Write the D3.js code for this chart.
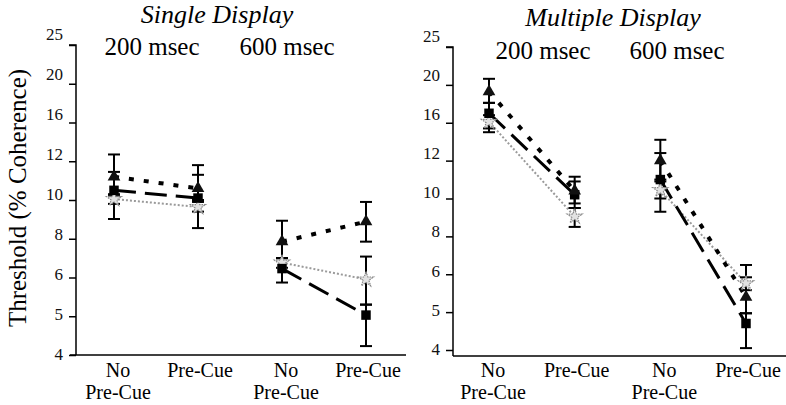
<!DOCTYPE html>
<html>
<head>
<meta charset="utf-8">
<script src="https://cdn.jsdelivr.net/npm/d3@7"></script>
<style>
  html, body { margin: 0; padding: 0; background: #fff; }
  text, tspan { font-family: 'Liberation Serif', 'Times New Roman', Tinos, Times !important; }
</style>
</head>
<body>
<div id="wrap"></div>
<script>
// ---------- data ----------
const panelTitles = ["Single Display", "Multiple Display"];
const durations = ["200 msec", "600 msec"];
const categories = ["No Pre-Cue", "Pre-Cue", "No Pre-Cue", "Pre-Cue"];
const yTicks = [4, 5, 6, 8, 10, 12, 16, 20, 25];
const yTitle = "Threshold (% Coherence)";

// Single display
const singleTriangle    = [11.2, 10.6, 7.85, 8.88];
const singleTriangleLo  = [10.2, 10.0, 7.0, 7.85];
const singleTriangleHi  = [12.7, 11.8, 8.93, 9.9];
const singleSquare      = [10.5, 10.1, 6.46, 5.03];
const singleSquareLo    = [9.02, 8.55, 5.87, 4.23];
const singleSquareHi    = [11.45, 11.3, 7.0, 5.3];
const singleGray        = [10.05, 9.64, 6.77, 5.95];
const singleGrayLo      = [9.8, 9.4, 6.5, 5.3];
const singleGrayHi      = [10.3, 9.9, 7.0, 7.08];

// Multiple display
const multiTriangle     = [19.3, 10.4, 12.0, 5.4];
const multiTriangleLo   = [18.1, 9.74, 11.0, 4.97];
const multiTriangleHi   = [20.8, 11.15, 14.2, 5.92];
const multiSquare       = [17.0, 10.2, 11.0, 4.7];
const multiSquareLo     = [15.0, 9.5, 9.3, 4.05];
const multiSquareHi     = [18.1, 10.9, 12.8, 4.97];
const multiGray         = [16.1, 9.05, 10.45, 5.76];
const multiGrayLo       = [15.4, 8.5, 10.0, 5.58];
const multiGrayHi       = [16.8, 9.5, 10.9, 6.49];

// ---------- layout ----------
const FONT = "'Liberation Serif', 'Times New Roman', Tinos, Times";
const svg = d3.select("#wrap").append("svg")
  .attr("width", 786).attr("height", 405)
  .style("display", "block")
  .attr("font-family", "Liberation Serif");

const panelLayout = [
  { axisX: 76, top: 45, bottom: 355, base: 355, xStart: 114, xEnd: 366, lineL: 70, lineR: 406, titleX: 217, titleY: 23, durX: [152, 287], durY: 55 },
  { axisX: 453, top: 47, bottom: 350, base: 356, xStart: 489, xEnd: 746, lineL: 453, lineR: 786, titleX: 613, titleY: 26, durX: [543, 677], durY: 59 }
];

const panelData = [
  [
    { v: singleTriangle, lo: singleTriangleLo, hi: singleTriangleHi, kind: "tri" },
    { v: singleSquare, lo: singleSquareLo, hi: singleSquareHi, kind: "sq" },
    { v: singleGray, lo: singleGrayLo, hi: singleGrayHi, kind: "gray" }
  ],
  [
    { v: multiTriangle, lo: multiTriangleLo, hi: multiTriangleHi, kind: "tri" },
    { v: multiSquare, lo: multiSquareLo, hi: multiSquareHi, kind: "sq" },
    { v: multiGray, lo: multiGrayLo, hi: multiGrayHi, kind: "gray" }
  ]
];

const lineStyle = {
  tri:  { stroke: "#000", width: 4, dash: "5,10" },
  sq:   { stroke: "#000", width: 3, dash: "22,9" },
  gray: { stroke: "#9a9a9a", width: 2, dash: "2,2" }
};
const drawOrder = ["gray", "sq", "tri"];

function txt(sel) {
  return sel.attr("font-family", "Liberation Serif").style("font-family", FONT);
}

panelLayout.forEach((L, p) => {
  const g = svg.append("g");
  const n = yTicks.length;
  const y = d3.scaleLinear()
    .domain(yTicks)
    .range(yTicks.map((_, i) => L.bottom - i * (L.bottom - L.top) / (n - 1)));
  const x = d3.scaleLinear().domain([0, categories.length - 1]).range([L.xStart, L.xEnd]);

  // y axis
  const yAxis = d3.axisLeft(y).tickValues(yTicks).tickSize(7).tickPadding(6).tickFormat(d3.format("d"));
  const ya = g.append("g").attr("transform", `translate(${L.axisX},0)`).call(yAxis);
  ya.attr("font-family", "Liberation Serif").attr("font-size", 17);
  ya.select(".domain").attr("d", `M-7,${L.top}H0V${L.base}`).attr("stroke", "#000").attr("stroke-width", 1.5);
  ya.selectAll(".tick line").attr("stroke", "#000").attr("stroke-width", 1.5);
  txt(ya.selectAll(".tick text"))
    .attr("font-size", 17)
    .attr("fill", "#111")
    .attr("transform", (d) => `translate(0,${-1.3 * yTicks.indexOf(d) - 1})`);

  // x baseline
  g.append("line")
    .attr("x1", L.lineL).attr("x2", L.lineR)
    .attr("y1", L.base).attr("y2", L.base)
    .attr("stroke", "#000").attr("stroke-width", 1.5);

  // titles
  txt(g.append("text"))
    .attr("x", L.titleX).attr("y", L.titleY)
    .attr("text-anchor", "middle")
    .attr("font-style", "italic")
    .attr("font-size", 26)
    .text(panelTitles[p]);
  durations.forEach((d, i) => {
    txt(g.append("text"))
      .attr("x", L.durX[i]).attr("y", L.durY)
      .attr("text-anchor", "middle")
      .attr("font-size", 25)
      .text(d);
  });

  // x category labels
  categories.forEach((c, i) => {
    if (c === "No Pre-Cue") {
      txt(g.append("text")).attr("text-anchor", "middle").attr("font-size", 20)
        .attr("x", x(i) + 4).attr("y", 377).text("No");
      txt(g.append("text")).attr("text-anchor", "middle").attr("font-size", 20)
        .attr("x", x(i) + 4).attr("y", 399).text("Pre-Cue");
    } else {
      txt(g.append("text")).attr("text-anchor", "middle").attr("font-size", 20)
        .attr("x", x(i) + 2).attr("y", 377).text(c);
    }
  });

  const series = panelData[p];

  // lines (per duration segment)
  drawOrder.forEach((k) => {
    const s = series.find((e) => e.kind === k);
    const st = lineStyle[k];
    [[0, 1], [2, 3]].forEach(([a, b]) => {
      g.append("path")
        .attr("d", d3.line().x((d) => x(d)).y((d) => y(s.v[d]))([a, b]))
        .attr("fill", "none")
        .attr("stroke", st.stroke)
        .attr("stroke-width", st.width)
        .attr("stroke-dasharray", st.dash);
    });
  });

  // error bars
  series.forEach((s) => {
    s.v.forEach((v, i) => {
      const cx = x(i);
      g.append("line").attr("x1", cx).attr("x2", cx).attr("y1", y(s.lo[i])).attr("y2", y(s.hi[i]))
        .attr("stroke", "#000").attr("stroke-width", 2);
      [s.lo[i], s.hi[i]].forEach((e) => {
        g.append("line").attr("x1", cx - 6).attr("x2", cx + 6).attr("y1", y(e)).attr("y2", y(e))
          .attr("stroke", "#000").attr("stroke-width", 2);
      });
    });
  });

  // markers
  drawOrder.forEach((k) => {
    const s = series.find((e) => e.kind === k);
    s.v.forEach((v, i) => {
      const sym = g.append("path").attr("transform", `translate(${x(i)},${y(v)})`);
      if (k === "tri") {
        sym.attr("d", d3.symbol(d3.symbolTriangle, 70)()).attr("fill", "#111");
      } else if (k === "sq") {
        sym.attr("d", d3.symbol(d3.symbolSquare, 90)()).attr("fill", "#000");
      } else {
        sym.attr("d", d3.symbol(d3.symbolStar, 70)())
          .attr("fill", "#e2e2e2").attr("stroke", "#888").attr("stroke-width", 1.2)
          .attr("stroke-dasharray", "1.5,1");
      }
    });
  });
});

// y title
txt(svg.append("text"))
  .attr("transform", "translate(26,198) rotate(-90)")
  .attr("text-anchor", "middle")
  .attr("font-size", 25)
  .text(yTitle);
</script>
</body>
</html>
